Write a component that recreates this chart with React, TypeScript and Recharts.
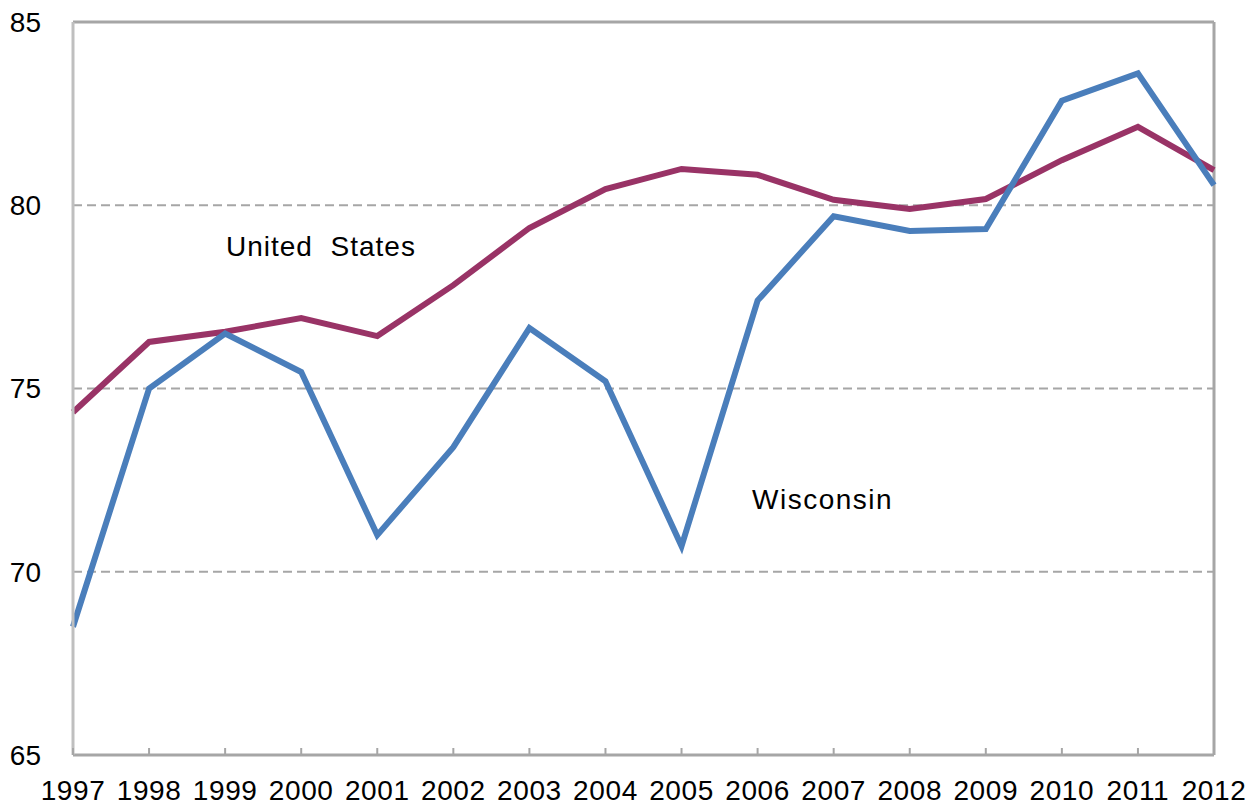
import React from 'react';
import { LineChart, Line, XAxis, YAxis, ReferenceLine } from 'recharts';

const years = ['1997', '1998', '1999', '2000', '2001', '2002', '2003', '2004', '2005', '2006', '2007', '2008', '2009', '2010', '2011', '2012'];
const wisconsin = [68.5, 75.0, 76.5, 75.45, 71.0, 73.4, 76.65, 75.2, 70.7, 77.4, 79.7, 79.3, 79.35, 82.85, 83.6, 80.55];
const unitedStates = [74.35, 76.27, 76.55, 76.92, 76.43, 77.82, 79.38, 80.44, 80.99, 80.83, 80.15, 79.9, 80.17, 81.23, 82.14, 80.96];
const yTicks = [65, 70, 75, 80, 85];
const gridValues = [70, 75, 80];

const data = years.map((year, i) => ({ year, wi: wisconsin[i], us: unitedStates[i] }));

const font = '"Liberation Sans", Arial, sans-serif';

const YearTick = (props: any) => {
  const { x, y, payload } = props;
  return (
    <g>
      <line x1={x} x2={x} y1={y - 7} y2={y} stroke="#A6A6A6" strokeWidth={2} />
      <text x={x} y={y + 25} dy="0.71em" textAnchor="middle" fill="#000" fontSize={28} fontFamily={font} letterSpacing={0.6}>
        {payload.value}
      </text>
    </g>
  );
};

const App: React.FC = () => {
  return (
    <div style={{ position: 'relative', width: 1256, height: 808, margin: '-8px 0 0 -8px', background: '#fff' }}>
      <LineChart width={1256} height={808} data={data} margin={{ top: 22, right: 42, left: 0, bottom: 0 }}>
        <XAxis
          dataKey="year"
          interval={0}
          height={53}
          tickSize={0}
          tickMargin={0}
          axisLine={{ stroke: '#A6A6A6', strokeWidth: 3 }}
          tickLine={false}
          tick={<YearTick />}
        />
        <YAxis
          type="number"
          domain={[65, 85]}
          ticks={yTicks}
          width={73}
          interval={0}
          axisLine={{ stroke: '#BFBFBF', strokeWidth: 3 }}
          tickLine={false}
          tickMargin={26}
          tick={{ fill: '#000', fontSize: 28, fontFamily: font }}
        />
        {gridValues.map((v) => (
          <ReferenceLine key={v} y={v} stroke="#A6A6A6" strokeWidth={2} strokeDasharray="9 5" />
        ))}
        <ReferenceLine y={85} stroke="#A6A6A6" strokeWidth={3} />
        <ReferenceLine x="2012" stroke="#A6A6A6" strokeWidth={3} />
        <Line dataKey="us" stroke="#993366" strokeWidth={6} dot={false} isAnimationActive={false} />
        <Line dataKey="wi" stroke="#4A7EBB" strokeWidth={6} dot={false} isAnimationActive={false} />
      </LineChart>
      <div style={{ position: 'absolute', left: 226, top: 231, fontFamily: font, fontSize: 28, letterSpacing: 1, whiteSpace: 'pre', color: '#000' }}>
        {'United  States'}
      </div>
      <div style={{ position: 'absolute', left: 752, top: 484, fontFamily: font, fontSize: 28, letterSpacing: 1.5, color: '#000' }}>
        Wisconsin
      </div>
    </div>
  );
};

export default App;
